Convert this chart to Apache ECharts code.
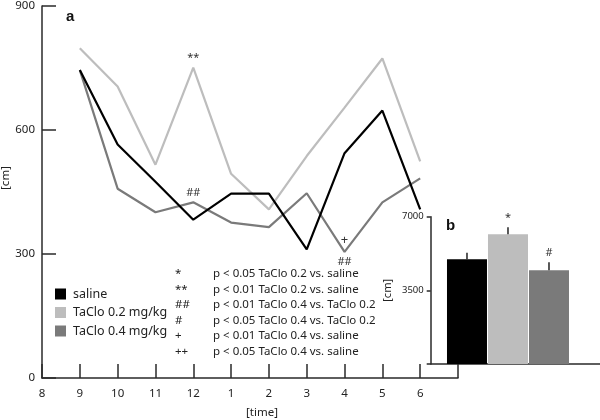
<!DOCTYPE html>
<html>
<head>
<meta charset="utf-8">
<script src="https://cdn.jsdelivr.net/npm/echarts@6/dist/echarts.min.js"></script>
<style>
html,body{margin:0;padding:0;background:#fff;}
#chart{width:600px;height:420px;}
</style>
</head>
<body>
<div id="chart"></div>
<script>
// ---- data ----
const timeLabels = ['8','9','10','11','12','1','2','3','4','5','6',''];
const seriesNames = ['saline','TaClo 0.2 mg/kg','TaClo 0.4 mg/kg'];
const saline  = [null,745,565,475,383,446,446,311,544,647,408,null];
const taclo02 = [null,798,705,516,751,494,408,537,654,773,524,null];
const taclo04 = [null,745,458,401,425,376,365,447,305,425,483,null];
const yTicks = [0,300,600,900];

const barCategories = ['saline','TaClo 0.2 mg/kg','TaClo 0.4 mg/kg'];
const barValues = [4975,6163,4453];
const barErrors = [315,333,380];
const barMarks = ['','*','#'];

const statSymbols = ['*','**','##','#','+','++'];
const statTexts = [
  'p < 0.05 TaClo 0.2 vs. saline',
  'p < 0.01 TaClo 0.2 vs. saline',
  'p < 0.01 TaClo 0.4 vs. TaClo 0.2',
  'p < 0.05 TaClo 0.4 vs. TaClo 0.2',
  'p < 0.01 TaClo 0.4 vs. saline',
  'p < 0.05 TaClo 0.4 vs. saline'
];
// annotations on line chart: [seriesIndex, category, value, text, above?]
const lineMarks = [
  [1,'12',751,'**',true],
  [2,'12',425,'##',true],
  [2,'4',305,'+',true],
  [2,'4',305,'##',false]
];

const colors = ['#000000','#bdbdbd','#7a7a7a'];
const FONT = '"Noto Sans", "DejaVu Sans", sans-serif';
const axisColor = '#2a2a2a';

const chart = echarts.init(document.getElementById('chart'), null, {renderer:'canvas'});

function marksFor(si){
  return lineMarks.filter(m=>m[0]===si).map(m=>({
    coord:[m[1], m[2]],
    symbol:'circle', symbolSize:0,
    label:{show:true, formatter:m[3], position: m[4]?'top':'bottom',
      distance: m[4]?(m[3]==='+'?5:4):4,
      color:'#333', fontSize: m[3]==='+'?13:11, fontFamily:FONT}
  }));
}

const lineData = [saline, taclo02, taclo04];
const lineSeries = lineData.map((d,i)=>({
  name: seriesNames[i], type:'line', xAxisIndex:0, yAxisIndex:0,
  data:d, symbol:'none', connectNulls:false, z: [3,2,1][i]+2,
  lineStyle:{color:colors[i], width:2.2},
  itemStyle:{color:colors[i]},
  markPoint: marksFor(i).length? {data:marksFor(i), animation:false, silent:true} : undefined
}));

const statGraphics = [];
statSymbols.forEach((s,i)=>{
  statGraphics.push({type:'text', left:175, top:268+i*15.5,
    style:{text:s, font:'11.5px '+FONT, fill:'#222'}});
  statGraphics.push({type:'text', left:213, top:268+i*15.5,
    style:{text:statTexts[i], font:'11.5px '+FONT, fill:'#222'}});
});

const option = {
  animation:false,
  backgroundColor:'#fff',
  grid:[
    {left:42, top:5, width:416, height:373},
    {left:430.7, top:216.7, width:169.3, height:147.3}
  ],
  legend:{
    data:seriesNames, orient:'vertical', left:55, top:287.5, padding:0,
    icon:'rect', itemWidth:11, itemHeight:11, itemGap:5.5,
    textStyle:{fontSize:12.5, fontFamily:FONT, color:'#222', padding:[0,0,0,2]},
    selectedMode:false
  },
  xAxis:[
    {type:'category', gridIndex:0, data:timeLabels, boundaryGap:false,
     axisLine:{lineStyle:{color:axisColor, width:1.5}},
     axisTick:{inside:true, length:14, lineStyle:{color:axisColor, width:1.5}},
     axisLabel:{margin:10, fontSize:11.5, fontFamily:FONT, color:'#222'},
     splitLine:{show:false}},
    {type:'value', gridIndex:1, min:0.115, max:4.244,
     axisLine:{onZero:false, lineStyle:{color:axisColor, width:1.5}},
     axisTick:{show:false}, axisLabel:{show:false}, splitLine:{show:false}}
  ],
  yAxis:[
    {type:'value', gridIndex:0, min:yTicks[0], max:yTicks[yTicks.length-1], interval:300,
     axisLine:{show:true, lineStyle:{color:axisColor, width:1.5}},
     axisTick:{show:true, inside:true, length:14, lineStyle:{color:axisColor, width:1.5}},
     axisLabel:{margin:7, fontSize:11.5, fontFamily:FONT, color:'#222'},
     splitLine:{show:false}},
    {type:'value', gridIndex:1, min:0, max:7000, interval:3500,
     name:'[cm]', nameLocation:'middle', nameGap:37, nameRotate:90,
     nameTextStyle:{fontSize:11, fontFamily:FONT, color:'#222'},
     axisLine:{show:true, lineStyle:{color:axisColor, width:1.5}},
     axisTick:{show:true, length:4, lineStyle:{color:axisColor, width:1.5}},
     axisLabel:{margin:7, fontSize:9.5, fontFamily:FONT, color:'#222',
       formatter:v=> v===0?'':String(v)},
     splitLine:{show:false}}
  ],
  series:[
    ...lineSeries,
    {type:'bar', xAxisIndex:1, yAxisIndex:1, barWidth:40,
     data: barValues.map((v,i)=>({value:[i+1, v], itemStyle:{color:colors[i]}})),
     z:2},
    {type:'custom', xAxisIndex:1, yAxisIndex:1, z:3,
     data: barValues.map((v,i)=>[i+1, v, v+barErrors[i], i]),
     renderItem:(params, api)=>{
       const x = api.value(0);
       const p0 = api.coord([x, api.value(1)]);
       const p1 = api.coord([x, api.value(2)]);
       const idx = api.value(3);
       const children = [{type:'line', shape:{x1:p0[0], y1:p0[1], x2:p1[0], y2:p1[1]},
         style:{stroke:'#222', lineWidth:1.5}}];
       if (barMarks[idx]) children.push({type:'text', x:p1[0], y:p1[1]-4,
         style:{text:barMarks[idx], textAlign:'center', textVerticalAlign:'bottom',
           font:'11px '+FONT, fill:'#333'}});
       return {type:'group', children};
     }}
  ],
  graphic:[
    {type:'text', left:66, top:9, style:{text:'a', font:'bold 15px "Liberation Sans", Arial, sans-serif', fill:'#111'}},
    {type:'text', left:446, top:218, style:{text:'b', font:'bold 15px "Liberation Sans", Arial, sans-serif', fill:'#111'}},
    {type:'text', x:6, y:178, rotation:Math.PI/2,
     style:{text:'[cm]', font:'11.5px '+FONT, fill:'#222', textAlign:'center', textVerticalAlign:'middle'}},
    {type:'text', x:262, y:413,
     style:{text:'[time]', font:'11.5px '+FONT, fill:'#222', textAlign:'center', textVerticalAlign:'middle'}},
    ...statGraphics
  ]
};
chart.setOption(option);
</script>
</body>
</html>
